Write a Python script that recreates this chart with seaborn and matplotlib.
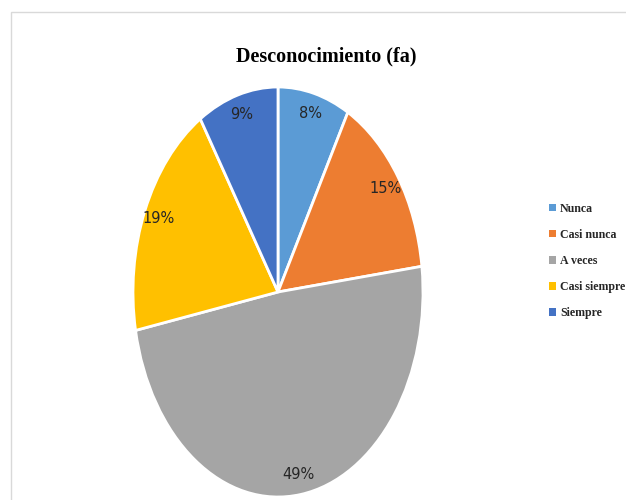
import matplotlib
matplotlib.use("Agg")
import matplotlib.pyplot as plt
import matplotlib.patches as mpatches
import seaborn as sns

sns.set_theme(style="white")

categories = ["Nunca", "Casi nunca", "A veces", "Casi siempre", "Siempre"]
percentages = [8, 15, 49, 19, 9]
colors = ["#5B9BD5", "#ED7D31", "#A5A5A5", "#FFC000", "#4472C4"]
title = "Desconocimiento (fa)"

W, H = 626, 500
fig = plt.figure(figsize=(W / 100, H / 100), dpi=100)

# light chart-area border (top and left edges visible)
fig.patches.append(mpatches.Rectangle((11 / W, -0.1), 1.2, (H - 12) / H + 0.1,
                                      transform=fig.transFigure, fill=False,
                                      edgecolor="#D9D9D9", linewidth=1.0))

# pie axes: box is taller than wide, so the pie is drawn as an ellipse
ax = fig.add_axes([133 / W, 3 / H, 290 / W, 410 / H])
wedges, texts, autotexts = ax.pie(
    percentages, colors=colors, startangle=90, counterclock=False,
    autopct=lambda p: f"{p:.0f}%", pctdistance=0.9,
    wedgeprops=dict(edgecolor="white", linewidth=2),
    textprops=dict(fontsize=10.5, color="#262626",
                   family=["Liberation Sans Narrow", "DejaVu Sans Condensed", "DejaVu Sans"]),
)
ax.set_aspect("auto")
ax.set_xlim(-1, 1)
ax.set_ylim(-1, 1)
ax.axis("off")

fig.text(326 / W, 1 - 56 / H, title, ha="center", va="center",
         fontsize=14.5, fontweight="bold", family=["Liberation Serif", "DejaVu Serif"],
         color="black")

handles = [mpatches.Patch(facecolor=c, edgecolor="none") for c in colors]
fig.legend(handles, categories, loc="center left", bbox_to_anchor=(544 / W, 1 - 261 / H),
           frameon=False, handlelength=0.6, handleheight=0.6, handletextpad=0.35,
           labelspacing=1.18, borderaxespad=0,
           prop=dict(family=["Liberation Serif", "DejaVu Serif"], weight="bold", size=8.6))

fig.savefig("out.png", dpi=100, facecolor="white")
